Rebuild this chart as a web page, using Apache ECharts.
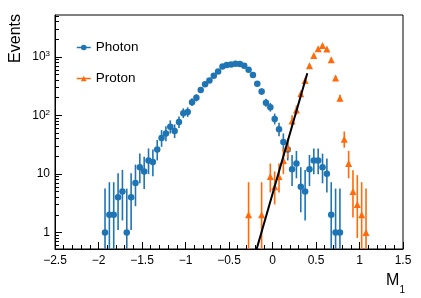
<!DOCTYPE html>
<html>
<head>
<meta charset="utf-8">
<script src="https://cdn.jsdelivr.net/npm/echarts@6/dist/echarts.min.js"></script>
<style>
html,body{margin:0;padding:0;background:#fff;}
#chart{width:421px;height:298px;}
</style>
</head>
<body>
<div id="chart"></div>
<script>
// ---- data ----
const photonX = [-1.925,-1.875,-1.825,-1.775,-1.725,-1.675,-1.625,-1.575,-1.525,-1.475,-1.425,-1.375,-1.325,-1.275,-1.225,-1.175,-1.125,-1.075,-1.025,-0.975,-0.925,-0.875,-0.825,-0.775,-0.725,-0.675,-0.625,-0.575,-0.525,-0.475,-0.425,-0.375,-0.325,-0.275,-0.225,-0.175,-0.125,-0.075,-0.025,0.025,0.075,0.125,0.175,0.225,0.275,0.325,0.375,0.425,0.475,0.525,0.575,0.625,0.675,0.725,0.775];
const photonY = [1,2,2,4,5,1,4,7,13,11,17,16,26,41,49,64,54,77,109,114,168,200,272,341,394,474,562,684,722,741,760,752,703,600,488,347,255,165,138,87,58,35,26,12,15,6,5,12,17,17,13,10,2,1,1];
const photonLo = [0.03,0.24,0.24,1.1,1.6,0.03,1.1,2.8,6.9,5.5,9.9,9.1,17,29,36,49,41,61,90,94,144,173,241,305,356,432,516,634,670,688,706,698,651,552,445,311,225,141,116,70,44,24,17,6.2,8.4,2.2,1.6,6.2,9.9,9.9,6.9,4.8,0.24,0.03,0.03];
const photonHi = [5.6,7.2,7.2,10.2,11.7,5.6,10.2,14.4,22.2,19.7,27.2,26,38,56,65,82,70,96,132,137,196,230,306,379,435,519,611,737,777,797,816,808,757,650,533,386,288,192,163,107,75,49,38,21,24.7,13,11.7,21,27.2,27.2,22.2,18.4,7.2,5.6,5.6];

const protonX = [-0.275,-0.125,-0.025,0.025,0.075,0.125,0.175,0.225,0.275,0.325,0.375,0.425,0.475,0.525,0.575,0.625,0.675,0.725,0.775,0.825,0.875,0.925,0.975,1.025,1.075];
const protonY = [2,2,9,6,9,17,28,80,124,233,394,703,1057,1377,1570,1361,892,433,196,39,15,5,3,2,1];
const protonLo = [0.24,0.24,4.8,3.0,4.8,9.9,18.6,63,103,204,356,651,993,1305,1493,1290,834,393,170,28,8.4,1.8,0.8,0.24,0.03];
const protonHi = [7.2,7.2,15,11,15,27.2,40.5,100,148,265,435,757,1124,1452,1650,1435,952,476,225,53,24.7,11.5,9.5,7.2,5.6];

const fitX = [-0.2, 0.4];
const fitY = [0.42, 523];

const xTicks = {min: -2.5, max: 1.5, step: 0.5};
const yMajor = [1, 10, 100, 1000];
const yMinor = [0.6,0.7,0.8,0.9,2,3,4,5,6,7,8,9,20,30,40,50,60,70,80,90,200,300,400,500,600,700,800,900,2000,3000,4000,5000];
const yRange = [0.52, 5190];

const BLUE = '#1f74b4';
const ORANGE = '#ff6a0a';
const FONT = 'Liberation Sans, Arial, Helvetica, sans-serif';

const chart = echarts.init(document.getElementById('chart'), null, {renderer: 'canvas'});

function errSeries(name, xs, lo, hi, color) {
  return {
    type: 'custom',
    name: name,
    silent: true,
    z: 2,
    data: xs.map((x, i) => [x, lo[i], hi[i]]),
    encode: {x: 0, y: [1, 2]},
    renderItem: function (params, api) {
      const x = api.value(0);
      const l = Math.max(api.value(1), yRange[0]);
      const h = Math.min(api.value(2), yRange[1]);
      const p1 = api.coord([x, l]);
      const p2 = api.coord([x, h]);
      return {
        type: 'line',
        shape: {x1: p1[0], y1: p1[1], x2: p2[0], y2: p2[1]},
        style: {stroke: color, lineWidth: 1.6}
      };
    }
  };
}

const supMap = {1000: '3', 100: '2'};

const option = {
  animation: false,
  backgroundColor: '#fff',
  grid: {left: 55, right: 18, top: 15, bottom: 49, show: true, borderColor: '#000', borderWidth: 1, containLabel: false},
  legend: {
    data: ['Photon', 'Proton'],
    orient: 'vertical',
    left: 76,
    top: 40,
    padding: 0,
    itemWidth: 14,
    itemHeight: 7,
    itemGap: 16,
    selectedMode: false,
    textStyle: {fontFamily: FONT, fontSize: 13.5, color: '#000', lineHeight: 15},
    lineStyle: {opacity: 1, width: 1.5}
  },
  xAxis: {
    type: 'value',
    min: xTicks.min,
    max: xTicks.max,
    interval: xTicks.step,
    axisLine: {show: true, onZero: false, lineStyle: {color: '#000', width: 1}},
    axisTick: {show: true, inside: true, length: 7, lineStyle: {color: '#000'}},
    minorTick: {show: true, splitNumber: 5, length: 4, lineStyle: {color: '#000'}},
    splitLine: {show: false},
    minorSplitLine: {show: false},
    axisLabel: {
      show: true, showMinLabel: true, showMaxLabel: true, margin: 6,
      fontFamily: FONT, fontSize: 12, color: '#000',
      formatter: function (v) { return String(v).replace('-', '\u2212'); }
    }
  },
  yAxis: [
    {
      type: 'log', logBase: 10, min: yRange[0], max: yRange[1], position: 'left',
      axisLine: {show: true, onZero: false, lineStyle: {color: '#000', width: 1}},
      axisTick: {show: true, inside: true, length: 7, customValues: yMajor, lineStyle: {color: '#000'}},
      splitLine: {show: false},
      minorTick: {show: false},
      axisLabel: {
        show: true, customValues: yMajor, margin: 5,
        fontFamily: FONT, fontSize: 12, color: '#000',
        formatter: function (v) {
          const r = Math.round(v);
          if (supMap[r]) return '{b|10}{s|' + supMap[r] + '}';
          return '{b|' + r + '}';
        },
        rich: {
          b: {fontFamily: FONT, fontSize: 12, lineHeight: 14, color: '#000'},
          s: {fontFamily: FONT, fontSize: 8, lineHeight: 8, verticalAlign: 'top', color: '#000'}
        }
      }
    },
    {
      type: 'log', logBase: 10, min: yRange[0], max: yRange[1], position: 'left', offset: 0,
      axisLine: {show: false, onZero: false},
      axisTick: {show: true, inside: true, length: 4, customValues: yMinor, lineStyle: {color: '#000'}},
      axisLabel: {show: false},
      splitLine: {show: false}
    }
  ],
  graphic: [
    {
      type: 'text', x: 16, y: 14, rotation: Math.PI / 2,
      style: {text: 'Events', fontFamily: FONT, fontSize: 16, fill: '#000', align: 'right', verticalAlign: 'middle'}
    },
    {
      type: 'text', x: 405, y: 273,
      style: {
        text: '{m|M}{s|1}', align: 'right', verticalAlign: 'top',
        rich: {
          m: {fontFamily: FONT, fontSize: 16, lineHeight: 17, fill: '#000', verticalAlign: 'top'},
          s: {fontFamily: FONT, fontSize: 10, lineHeight: 22, fill: '#000', verticalAlign: 'bottom'}
        }
      }
    }
  ],
  series: [
    errSeries('photonErr', photonX, photonLo, photonHi, BLUE),
    errSeries('protonErr', protonX, protonLo, protonHi, ORANGE),
    {
      name: 'Photon', type: 'line', z: 4, silent: true,
      data: photonX.map((x, i) => [x, photonY[i]]),
      symbol: 'circle', symbolSize: 6.5, showAllSymbol: true,
      itemStyle: {color: BLUE},
      lineStyle: {opacity: 0, color: BLUE}
    },
    {
      name: 'Proton', type: 'line', z: 4, silent: true,
      data: protonX.map((x, i) => [x, protonY[i]]),
      symbol: 'triangle', symbolSize: 7, showAllSymbol: true,
      itemStyle: {color: ORANGE},
      lineStyle: {opacity: 0, color: ORANGE}
    },
    {
      name: 'fit', type: 'line', z: 5, silent: true,
      data: fitX.map((x, i) => [x, fitY[i]]),
      symbol: 'none', clip: true,
      lineStyle: {color: '#000', width: 2}
    }
  ]
};
chart.setOption(option);
</script>
</body>
</html>
